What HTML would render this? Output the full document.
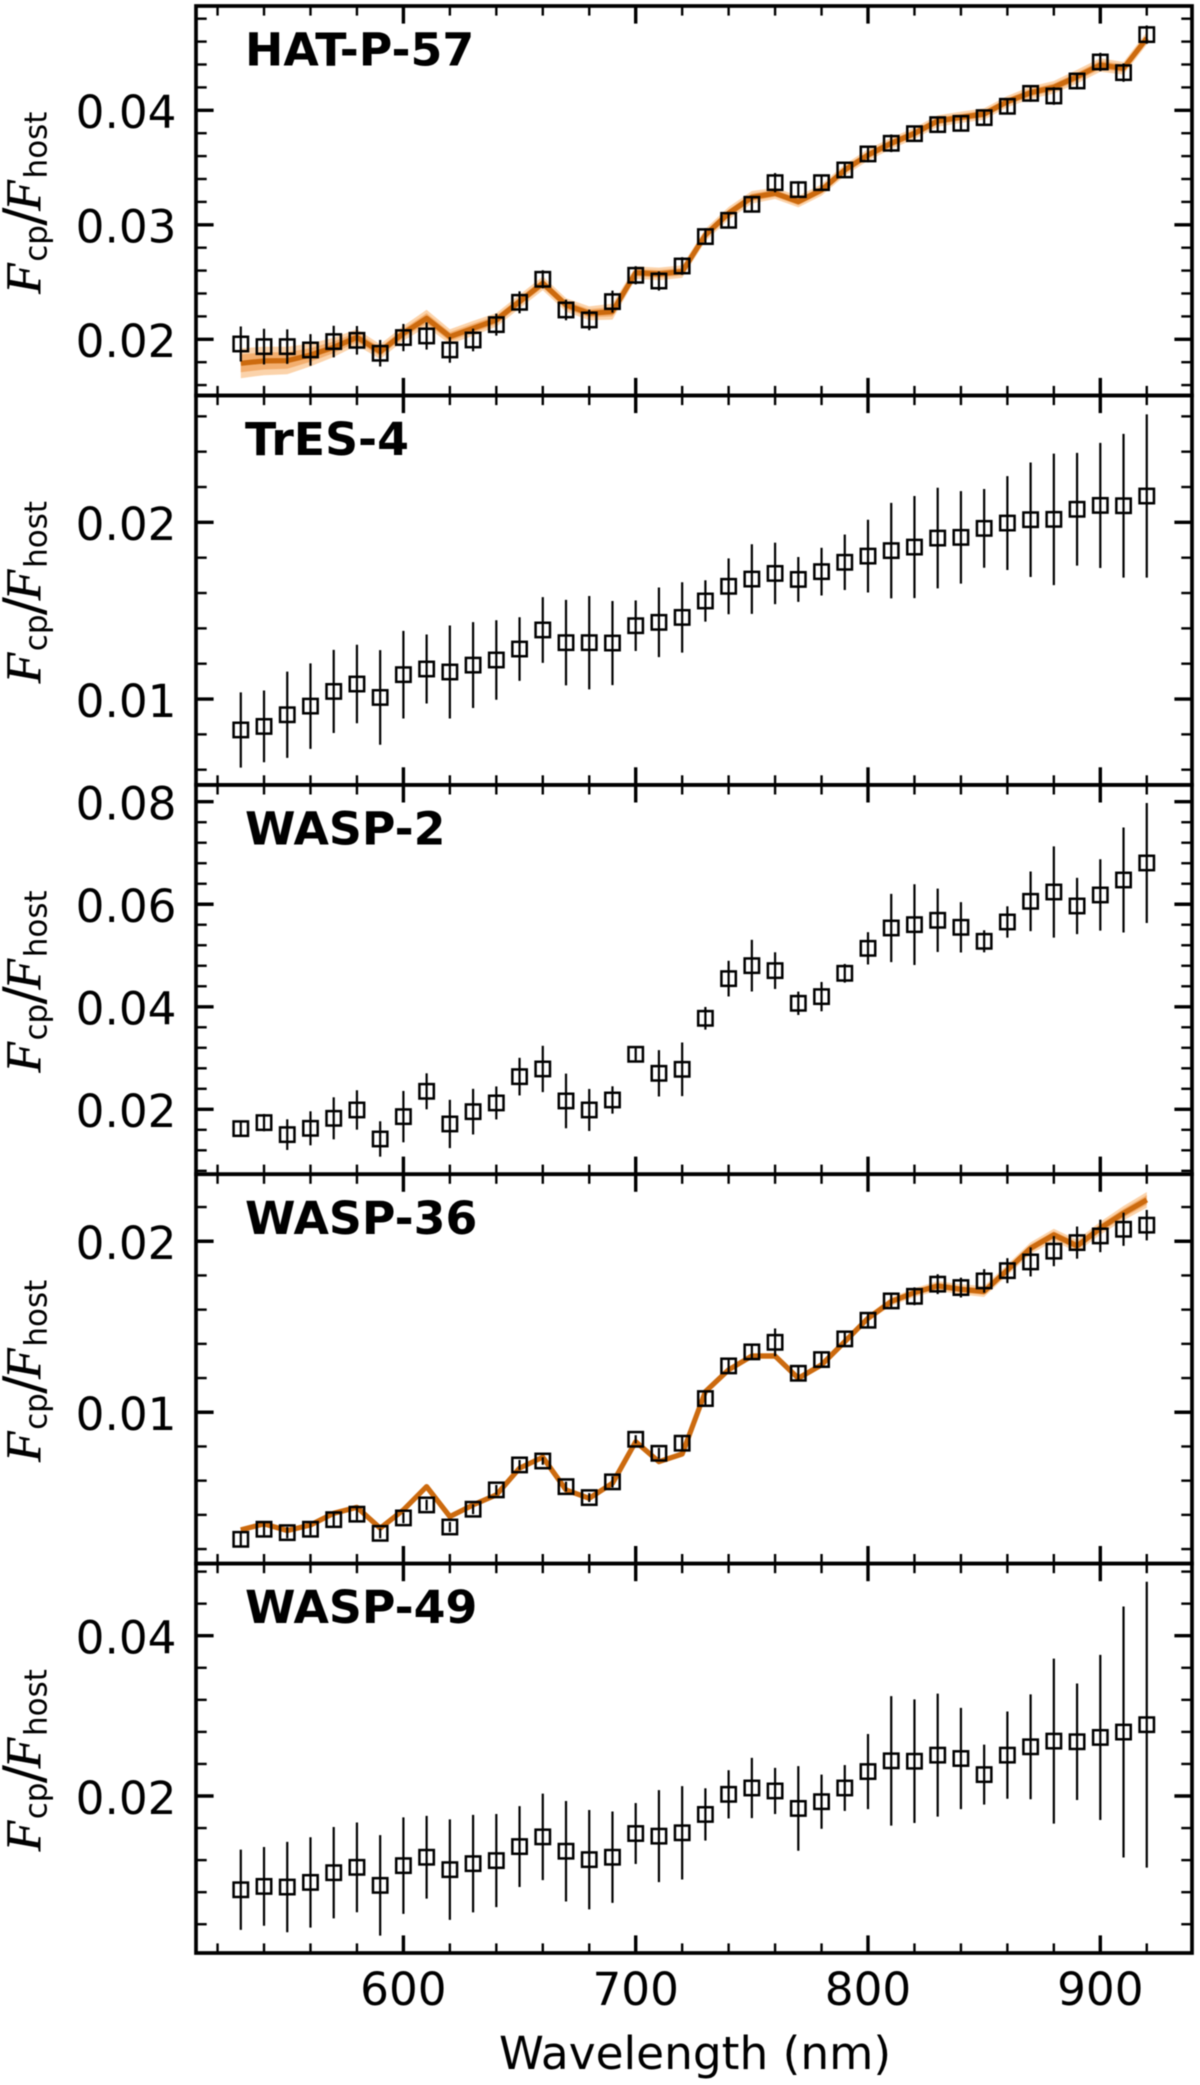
<!DOCTYPE html>
<html lang="en">
<head>
<meta charset="utf-8">
<title>Planet to host flux ratio spectra</title>
<style>
html,body{margin:0;padding:0;background:#fff;}
svg{display:block;font-family:"DejaVu Sans","Liberation Sans",sans-serif;filter:blur(0.45px);}
</style>
</head>
<body>
<svg id="chart" xmlns="http://www.w3.org/2000/svg" width="1200" height="2085" viewBox="0 0 1200 2085"></svg>
<script>
const wavelengths = [530,540,550,560,570,580,590,600,610,620,630,640,650,660,670,680,690,700,710,720,730,740,750,760,770,780,790,800,810,820,830,840,850,860,870,880,890,900,910,920];
const xTicks = [600,700,800,900];
const xTickLabels = ["600","700","800","900"];

const hatFlux = [.01959,.01936,.01936,.01907,.01980,.01991,.01878,.02015,.02029,.01907,.01994,.02128,.02323,.02524,.02256,.02169,.02329,.02559,.02509,.02640,.02897,.03039,.03179,.03368,.03307,.03368,.03479,.03619,.03712,.03796,.03875,.03886,.03936,.04035,.04148,.04125,.04256,.04422,.04329,.04661];
const hatErr = [.00153,.00156,.00151,.00138,.00138,.00125,.00116,.00119,.00119,.00112,.00099,.00096,.00096,.00079,.00090,.00090,.00096,.00079,.00084,.00077,.00073,.00068,.00070,.00084,.00073,.00068,.00066,.00073,.00077,.00068,.00067,.00070,.00067,.00067,.00073,.00077,.00074,.00080,.00080,.00080];
const hatModel = [.01790,.01811,.01814,.01863,.01930,.02017,.01892,.02052,.02183,.02023,.02096,.02169,.02329,.02489,.02300,.02227,.02242,.02582,.02571,.02591,.02911,.03100,.03240,.03275,.03202,.03304,.03479,.03610,.03712,.03799,.03907,.03939,.03968,.04076,.04154,.04201,.04294,.04396,.04367,.04629];
const hatBand = [.00130,.00125,.00120,.00100,.00085,.00070,.00065,.00065,.00075,.00065,.00065,.00060,.00060,.00060,.00060,.00060,.00070,.00055,.00055,.00055,.00055,.00055,.00055,.00050,.00050,.00050,.00050,.00050,.00050,.00050,.00050,.00050,.00050,.00050,.00055,.00055,.00060,.00060,.00055,.00055];

const tresFlux = [.00825,.00845,.00911,.00960,.01043,.01085,.01009,.01138,.01170,.01153,.01192,.01221,.01283,.01391,.01319,.01319,.01317,.01415,.01434,.01462,.01555,.01638,.01679,.01711,.01677,.01721,.01774,.01809,.01840,.01860,.01911,.01915,.01966,.01996,.02015,.02017,.02074,.02096,.02094,.02149];
const tresErr = [.00213,.00203,.00244,.00242,.00235,.00222,.00268,.00248,.00195,.00263,.00243,.00225,.00180,.00186,.00242,.00264,.00238,.00143,.00197,.00199,.00117,.00158,.00197,.00174,.00127,.00135,.00157,.00206,.00270,.00289,.00285,.00262,.00223,.00266,.00324,.00372,.00319,.00354,.00407,.00462];

const wasp2Flux = [.01623,.01740,.01506,.01629,.01824,.01987,.01421,.01857,.02351,.01714,.01954,.02124,.02637,.02787,.02163,.01987,.02182,.03073,.02702,.02780,.03775,.04549,.04802,.04705,.04068,.04198,.04653,.05140,.05537,.05602,.05687,.05550,.05277,.05654,.06057,.06239,.05966,.06181,.06473,.06805];
const wasp2Err = [.00156,.00169,.00299,.00332,.00410,.00384,.00345,.00501,.00351,.00471,.00445,.00322,.00367,.00452,.00533,.00410,.00267,.00120,.00452,.00523,.00221,.00348,.00504,.00358,.00228,.00286,.00182,.00315,.00666,.00787,.00618,.00491,.00215,.00306,.00582,.00891,.00549,.00696,.01024,.01170];

const wasp36Flux = [.00257,.00316,.00296,.00316,.00372,.00404,.00292,.00382,.00458,.00329,.00433,.00546,.00692,.00715,.00565,.00501,.00593,.00842,.00760,.00819,.01080,.01271,.01353,.01409,.01228,.01308,.01429,.01538,.01651,.01678,.01749,.01729,.01768,.01828,.01879,.01942,.01992,.02031,.02070,.02094];
const wasp36Err = [.00041,.00036,.00033,.00035,.00037,.00036,.00029,.00031,.00031,.00030,.00029,.00029,.00029,.00022,.00029,.00026,.00033,.00024,.00032,.00039,.00039,.00042,.00039,.00081,.00039,.00041,.00038,.00041,.00044,.00052,.00058,.00058,.00069,.00073,.00085,.00088,.00094,.00095,.00097,.00089];
const wasp36Model = [.00312,.00347,.00308,.00341,.00409,.00444,.00322,.00429,.00565,.00390,.00458,.00517,.00673,.00737,.00546,.00497,.00585,.00828,.00711,.00756,.01121,.01248,.01329,.01329,.01199,.01277,.01413,.01550,.01647,.01700,.01739,.01719,.01706,.01832,.01959,.02037,.01973,.02076,.02164,.02242];
const wasp36Band = [.00014,.00014,.00014,.00014,.00014,.00014,.00014,.00014,.00014,.00014,.00014,.00014,.00014,.00014,.00014,.00014,.00014,.00014,.00014,.00016,.00016,.00016,.00016,.00018,.00018,.00018,.00020,.00020,.00024,.00026,.00028,.00030,.00032,.00032,.00034,.00036,.00036,.00038,.00042,.00046];

const wasp49Flux = [.00830,.00872,.00864,.00922,.01043,.01110,.00885,.01131,.01236,.01081,.01156,.01194,.01369,.01490,.01311,.01206,.01236,.01532,.01499,.01541,.01770,.02021,.02100,.02063,.01845,.01929,.02100,.02305,.02439,.02434,.02510,.02468,.02267,.02510,.02614,.02685,.02677,.02731,.02798,.02890];
const wasp49Err = [.00501,.00491,.00564,.00564,.00570,.00560,.00627,.00602,.00516,.00627,.00608,.00581,.00505,.00539,.00627,.00620,.00570,.00380,.00574,.00583,.00326,.00301,.00376,.00288,.00528,.00338,.00286,.00468,.00808,.00771,.00767,.00631,.00374,.00545,.00654,.01030,.00727,.01030,.01566,.01784];

const hatYTicks = [.02,.03,.04];
const hatYTickLabels = ["0.02","0.03","0.04"];
const tresYTicks = [.01,.02];
const tresYTickLabels = ["0.01","0.02"];
const wasp2YTicks = [.02,.04,.06,.08];
const wasp2YTickLabels = ["0.02","0.04","0.06","0.08"];
const wasp36YTicks = [.01,.02];
const wasp36YTickLabels = ["0.01","0.02"];
const wasp49YTicks = [.02,.04];
const wasp49YTickLabels = ["0.02","0.04"];

const SVG_NS = "http://www.w3.org/2000/svg";
const chart = document.getElementById("chart");
const xAt = w => 403.4 + (w - 600) * 2.323;

function make(tag, parent, props) {
  const el = document.createElementNS(SVG_NS, tag);
  for (const k in props) el.setAttribute(k, props[k]);
  parent.appendChild(el);
  return el;
}

const panels = [
  {key:"hat-p-57",title:"HAT-P-57",top:6,bottom:395.5,min:.01509,max:.04911,minor:.002,flux:hatFlux,err:hatErr,model:hatModel,band:hatBand,ticks:hatYTicks,labels:hatYTickLabels},
  {key:"tres-4",title:"TrES-4",top:395.5,bottom:784.9,min:.00514,max:.02718,minor:.002,flux:tresFlux,err:tresErr,ticks:tresYTicks,labels:tresYTickLabels},
  {key:"wasp-2",title:"WASP-2",top:784.9,bottom:1174.2,min:.00734,max:.08328,minor:.004,flux:wasp2Flux,err:wasp2Err,ticks:wasp2YTicks,labels:wasp2YTickLabels},
  {key:"wasp-36",title:"WASP-36",top:1174.2,bottom:1563.6,min:.00115,max:.02392,minor:.002,flux:wasp36Flux,err:wasp36Err,model:wasp36Model,band:wasp36Band,ticks:wasp36YTicks,labels:wasp36YTickLabels},
  {key:"wasp-49",title:"WASP-49",top:1563.6,bottom:1953,min:.00041,max:.049,minor:.004,flux:wasp49Flux,err:wasp49Err,ticks:wasp49YTicks,labels:wasp49YTickLabels}
];

const LEFT = 196, RIGHT = 1192;

function tickLine(parent, x1, y1, x2, y2, major) {
  const t = make("line", parent, {x1:x1, y1:y1, x2:x2, y2:y2, stroke:"#000", "stroke-width": major ? 3.4 : 2.4});
  
  
}

function bandPath(p, y, factor) {
  const upper = wavelengths.map((w,i) => xAt(w).toFixed(1)+","+y(p.model[i]+p.band[i]*factor).toFixed(1));
  const lower = wavelengths.map((w,i) => xAt(w).toFixed(1)+","+y(p.model[i]-p.band[i]*factor).toFixed(1)).reverse();
  return upper.concat(lower).join(" ");
}

function drawYLabel(parent, centerY) {
  const g = make("g", parent, {transform:"translate(0,"+centerY+") rotate(-90)"});
  
  
  const script = {"font-size":50, "font-style":"italic", "font-family":'"Liberation Serif", serif', fill:"#000", stroke:"#000", "stroke-width":0.5};
  const sub = {"font-size":31, fill:"#000"};
  const f1 = make("text", g, Object.assign({x:-92, y:40}, script));
  f1.textContent = "F";
  const cp = make("text", g, Object.assign({x:-60, y:46.7}, sub));
  cp.textContent = "cp";
  const slash = make("text", g, {x:-24, y:42, "font-size":54, fill:"#000"});
  slash.textContent = "/";
  const f2 = make("text", g, Object.assign({x:-9, y:40}, script));
  f2.textContent = "F";
  const host = make("text", g, Object.assign({x:23.3, y:46.7}, sub));
  host.textContent = "host";
}

panels.forEach(function(p) {
  const y = v => p.bottom - (v - p.min) / (p.max - p.min) * (p.bottom - p.top);
  const g = make("g", chart, {});
  
  

  // ticks on all four sides, pointing inward
  for (let w = 520; w <= 920; w += 20) {
    const major = w % 100 === 0;
    const len = major ? 17.6 : 9.6;
    tickLine(g, xAt(w), p.bottom, xAt(w), p.bottom - len, major);
    tickLine(g, xAt(w), p.top, xAt(w), p.top + len, major);
  }
  const firstMinor = Math.ceil(p.min / p.minor - 1e-6) * p.minor;
  for (let v = firstMinor; v < p.max; v += p.minor) {
    tickLine(g, LEFT, y(v), LEFT + 10.7, y(v), false);
    tickLine(g, RIGHT, y(v), RIGHT - 10.7, y(v), false);
  }
  p.ticks.forEach(function(v, i) {
    tickLine(g, LEFT, y(v), LEFT + 17.6, y(v), true);
    tickLine(g, RIGHT, y(v), RIGHT - 17.6, y(v), true);
    const lab = make("text", g, {x:176.5, y:(y(v)+17.8).toFixed(1), "text-anchor":"end", "font-size":45.3, fill:"#000"});
    
    
    lab.textContent = p.labels[i];
  });

  // model with confidence bands
  if (p.model) {
    const outer = make("polygon", g, {points:bandPath(p, y, 1), fill:"#fbd3ab"});
    
    
    const inner = make("polygon", g, {points:bandPath(p, y, 0.6), fill:"#f3ae6e"});
    
    
    const pts = wavelengths.map((w,i) => xAt(w).toFixed(1)+","+y(p.model[i]).toFixed(1)).join(" ");
    const line = make("polyline", g, {points:pts, fill:"none", stroke:"#cc6a0e", "stroke-width":5.2, "stroke-linejoin":"round"});
    
    
  }

  // measured points
  wavelengths.forEach(function(w, i) {
    const cx = xAt(w), cy = y(p.flux[i]);
    const bar = make("line", g, {x1:cx, x2:cx, y1:y(p.flux[i]+p.err[i]), y2:y(p.flux[i]-p.err[i]), stroke:"#000", "stroke-width":2.2});
    
    
    const sq = make("rect", g, {x:cx-7.2, y:cy-7.2, width:14.4, height:14.4, fill:"none", stroke:"#000", "stroke-width":2.5});
    
    
  });

  // frame
  const frame = make("rect", g, {x:LEFT, y:p.top, width:RIGHT-LEFT, height:p.bottom-p.top, fill:"none", stroke:"#000", "stroke-width":3.7});
  
  

  // title
  const title = make("text", g, {x:245, y:p.top+59.6, "font-size":45.8, "font-weight":"bold", fill:"#000"});
  
  
  title.textContent = p.title;

  drawYLabel(g, (p.top + p.bottom) / 2 + 1);
});

xTicks.forEach(function(w, i) {
  const lab = make("text", chart, {x:xAt(w), y:2005, "text-anchor":"middle", "font-size":45.3, fill:"#000"});
  
  
  lab.textContent = xTickLabels[i];
});

const xTitle = make("text", chart, {x:695, y:2069, "text-anchor":"middle", "font-size":45.4, fill:"#000"});


xTitle.textContent = "Wavelength (nm)";
</script>
</body>
</html>
